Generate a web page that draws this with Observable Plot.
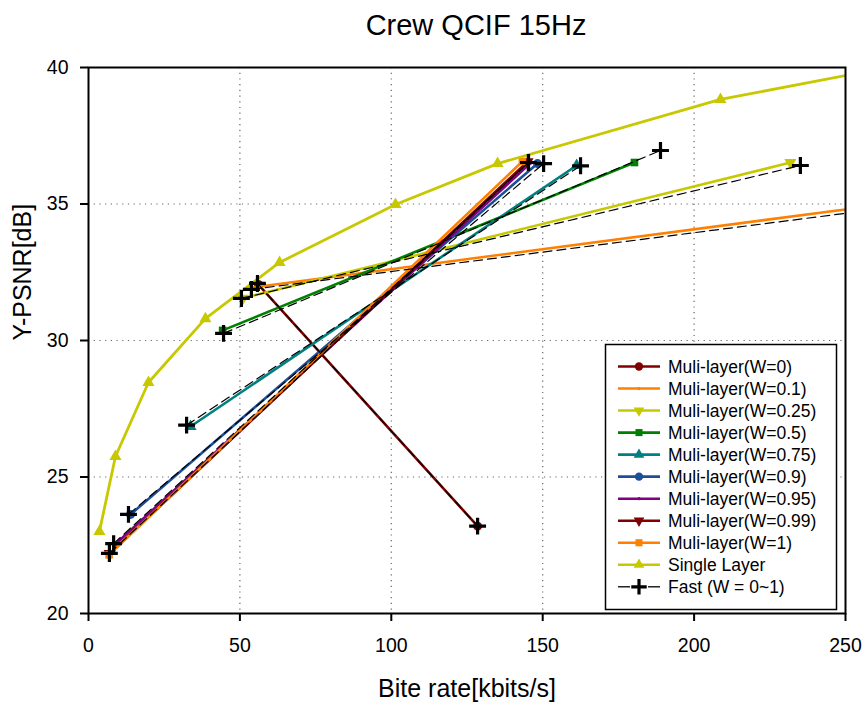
<!DOCTYPE html>
<html><head><meta charset="utf-8">
<script src="https://cdn.jsdelivr.net/npm/d3@7"></script>
<script src="https://cdn.jsdelivr.net/npm/@observablehq/plot@0.6"></script>
<style>
body{margin:0;background:#fff;font-family:"Liberation Sans",Arial,sans-serif;}
#wrap{position:relative;width:864px;height:704px;}
#legend{position:absolute;left:0;top:0;}
</style></head><body><div id="wrap"></div>
<script>
// ---- data ----
const xTicks = [0, 50, 100, 150, 200, 250];
const yTicks = [20, 25, 30, 35, 40];

const seriesNames = ["Muli-layer(W=0)","Muli-layer(W=0.1)","Muli-layer(W=0.25)","Muli-layer(W=0.5)","Muli-layer(W=0.75)","Muli-layer(W=0.9)","Muli-layer(W=0.95)","Muli-layer(W=0.99)","Muli-layer(W=1)","Single Layer","Fast (W = 0~1)"];
const seriesColors = ["#800000","#ff8000","#c8c800","#008000","#008080","#1c4f98","#800080","#800000","#ff8000","#c8c800","#000000"];
const seriesSymbols = ["circle","dot","triangleDown","square","triangle","circle","dot","triangleDown","square","triangle","plus"];

// multi-layer: [base, enhancement]
const rateW0 = [56.1, 128.5],   psnrW0 = [32.05, 23.2];
const rateW01 = [54.5, 300],    psnrW01 = [31.95, 35.53];
const rateW025 = [51.0, 231.8], psnrW025 = [31.55, 36.52];
const rateW05 = [44.3, 180.3],  psnrW05 = [30.37, 36.52];
const rateW075 = [33.7, 161.2], psnrW075 = [26.85, 36.41];
const rateW09 = [13.9, 148.3],  psnrW09 = [23.63, 36.48];
const rateW095 = [8.5, 146.0],  psnrW095 = [22.5, 36.5];
const rateW099 = [7.0, 145.0],  psnrW099 = [22.2, 36.55];
const rateW1 = [6.8, 143.3],    psnrW1 = [22.15, 36.56];

const singleRate = [3.6, 8.9, 19.8, 38.6, 63.1, 101.4, 135.1, 208.7, 290];
const singlePsnr = [23.0, 25.75, 28.46, 30.8, 32.86, 34.98, 36.48, 38.83, 40.55];

// fast: segments (id) base -> enhancement
const fastSeg  = [0, 0, 1, 1, 2, 2, 3, 3, 4, 4, 5, 5, 6, 6, 7, 7];
const fastRate = [6.9, 145.3, 8.3, 145.3, 13.2, 150.3, 32.4, 162.5, 44.6, 188.9, 50.5, 235.1, 53.8, 300, 55.8, 128.5];
const fastPsnr = [22.2, 36.52, 22.56, 36.52, 23.63, 36.48, 26.9, 36.4, 30.26, 36.96, 31.54, 36.41, 31.87, 35.37, 32.09, 23.2];

const multiRates = [rateW0, rateW01, rateW025, rateW05, rateW075, rateW09, rateW095, rateW099, rateW1];
const multiPsnrs = [psnrW0, psnrW01, psnrW025, psnrW05, psnrW075, psnrW09, psnrW095, psnrW099, psnrW1];

// ---- build tables ----
function table(rates, psnrs, seg) {
  return rates.map((r, i) => ({rate: r, psnr: psnrs[i], seg: seg ? seg[i] : 0}));
}
function dotMark(data, i) {
  const sym = seriesSymbols[i];
  const c = seriesColors[i];
  const base = {x: "rate", y: "psnr", clip: true};
  if (sym === "dot") return Plot.dot(data, {...base, r: 1.6, fill: c});
  if (sym === "plus") return Plot.dot(data, {...base, symbol: "plus", r: 5.5, stroke: c, strokeWidth: 3.2});
  if (sym === "triangleDown") return Plot.dot(data, {...base, symbol: "triangle", rotate: 180, r: 4.5, fill: c});
  return Plot.dot(data, {...base, symbol: sym, r: sym === "square" ? 4.3 : 4.5, fill: c});
}

const marks = [
  Plot.gridX({ticks: [50, 100, 150, 200], stroke: "#666", strokeOpacity: 1, strokeDasharray: "1.2,4.5", strokeWidth: 1.2}),
  Plot.gridY({ticks: [25, 30, 35], stroke: "#666", strokeOpacity: 1, strokeDasharray: "1.2,4.5", strokeWidth: 1.2})
];
const singleData = table(singleRate, singlePsnr);
multiRates.forEach((rates, i) => {
  const d = table(rates, multiPsnrs[i]);
  marks.push(Plot.line(d, {x: "rate", y: "psnr", stroke: seriesColors[i], strokeWidth: 2.6, clip: true}));
  marks.push(dotMark(d, i));
});
marks.push(Plot.line(singleData, {x: "rate", y: "psnr", stroke: seriesColors[9], strokeWidth: 2.8, clip: true}));
marks.push(dotMark(singleData, 9));
const fastData = table(fastRate, fastPsnr, fastSeg);
marks.push(Plot.line(fastData, {x: "rate", y: "psnr", z: "seg", stroke: "#000", strokeWidth: 1.2, strokeDasharray: "9,5", clip: true}));
marks.push(dotMark(fastData, 10));

marks.push(
  Plot.frame({stroke: "#000", strokeWidth: 2}),
  Plot.axisX({ticks: xTicks, tickSize: 8, tickPadding: 17, label: null, fontSize: 19.5, strokeWidth: 2}),
  Plot.axisY({ticks: yTicks, tickSize: 8, tickPadding: 12, label: null, fontSize: 19.5, strokeWidth: 2}),
  Plot.text(["Crew QCIF 15Hz"], {frameAnchor: "top", dy: -42, dx: 9, fontSize: 29, lineAnchor: "middle"}),
  Plot.text(["Bite rate[kbits/s]"], {frameAnchor: "bottom", dy: 75, fontSize: 25, lineAnchor: "middle"}),
  Plot.text(["Y-PSNR[dB]"], {frameAnchor: "left", dx: -66, rotate: -90, fontSize: 25, lineAnchor: "middle"})
);

const chart = Plot.plot({
  width: 864, height: 704,
  marginLeft: 88, marginRight: 19, marginTop: 67, marginBottom: 91,
  x: {domain: [0, 250]},
  y: {domain: [20, 40]},
  style: {fontFamily: "'Liberation Sans', Arial, sans-serif", color: "#000", background: "#fff", overflow: "visible"},
  marks
});
const wrap = document.getElementById("wrap");
wrap.appendChild(chart);

// ---- legend box (inside plot, bottom right) ----
const lg = d3.select(wrap).append("svg").attr("id", "legend")
  .attr("width", 864).attr("height", 704)
  .style("font-family", "'Liberation Sans', Arial, sans-serif");
lg.append("rect").attr("x", 605.5).attr("y", 344.5).attr("width", 231).attr("height", 265)
  .attr("fill", "#fff").attr("stroke", "#000").attr("stroke-width", 1.5);
seriesNames.forEach((name, i) => {
  const y = 366.5 + i * 22.03;
  const c = seriesColors[i];
  const sym = seriesSymbols[i];
  if (sym === "plus") {
    lg.append("line").attr("x1", 618).attr("x2", 630).attr("y1", y).attr("y2", y)
      .attr("stroke", c).attr("stroke-width", 1.3);
    lg.append("line").attr("x1", 648).attr("x2", 660).attr("y1", y).attr("y2", y)
      .attr("stroke", c).attr("stroke-width", 1.3);
  } else {
    lg.append("line").attr("x1", 618).attr("x2", 660).attr("y1", y).attr("y2", y)
      .attr("stroke", c).attr("stroke-width", 2.6);
  }
  if (sym === "dot") {
    lg.append("circle").attr("cx", 639).attr("cy", y).attr("r", 1.6).attr("fill", c);
  } else if (sym === "plus") {
    lg.append("path").attr("d", d3.symbol(d3.symbolPlus, 80)()).attr("transform", `translate(639,${y})`)
      .attr("fill", "none").attr("stroke", c).attr("stroke-width", 3.2);
  } else {
    const s = sym === "circle" ? d3.symbolCircle : sym === "square" ? d3.symbolSquare : d3.symbolTriangle;
    const area = sym === "circle" ? 55 : 50;
    const rot = sym === "triangleDown" ? " rotate(180)" : "";
    lg.append("path").attr("d", d3.symbol(s, area)()).attr("transform", `translate(639,${y})${rot}`).attr("fill", c);
  }
  lg.append("text").attr("x", 668).attr("y", y).attr("dy", "0.35em").attr("font-size", 17.5).attr("fill", "#000").text(name);
});
</script>
</body></html>
